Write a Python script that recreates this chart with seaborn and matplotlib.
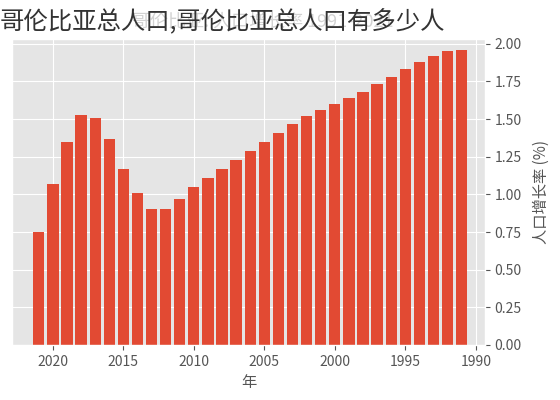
import matplotlib.pyplot as plt
import seaborn as sns
from matplotlib.ticker import FormatStrFormatter

# Colombia population growth rate (%), 1991-2021
years = list(range(1991, 2022))
growth = [
    1.96, 1.95, 1.92, 1.88, 1.83, 1.78, 1.73, 1.68, 1.64, 1.60,
    1.56, 1.52, 1.47, 1.41, 1.35, 1.29, 1.23, 1.17, 1.11, 1.05,
    0.97, 0.90, 0.905, 1.01, 1.17, 1.37, 1.51, 1.525, 1.35, 1.07,
    0.75,
]
year_ticks = [1990, 1995, 2000, 2005, 2010, 2015, 2020]

plt.style.use("ggplot")
plt.rcParams["font.family"] = ["Noto Sans CJK SC", "DejaVu Sans"]

fig = plt.figure(figsize=(5.6, 4.0), dpi=100)
ax = fig.add_axes([0.0214, 0.1375, 0.8446, 0.7643])

sns.barplot(x=years, y=growth, native_scale=True, color="#E24A33",
            saturation=1, ax=ax, width=0.8)

ax.set_xlim(2022.9, 1989.35)
ax.set_ylim(0, 2.03)
ax.set_xticks(year_ticks)
ax.yaxis.set_major_formatter(FormatStrFormatter("%.2f"))
ax.yaxis.tick_right()
ax.yaxis.set_label_position("right")
ax.tick_params(labelsize=10, colors="#555555")
ax.set_xlabel("年", fontsize=11, color="#555555")
ax.set_ylabel("人口增长率 (%)", fontsize=11, color="#555555", labelpad=8)

# faint chart title underneath the page headline
fig.text(0.47, 0.945, "哥伦比亚: 人口增长率 1991-2021", fontsize=13,
         color="#d2d2d2", ha="center", va="center")
fig.text(0.0, 0.948, "哥伦比亚总人口,哥伦比亚总人口有多少人", fontsize=17.6,
         color="#333333", ha="left", va="center")

fig.savefig("out.png", dpi=100)
